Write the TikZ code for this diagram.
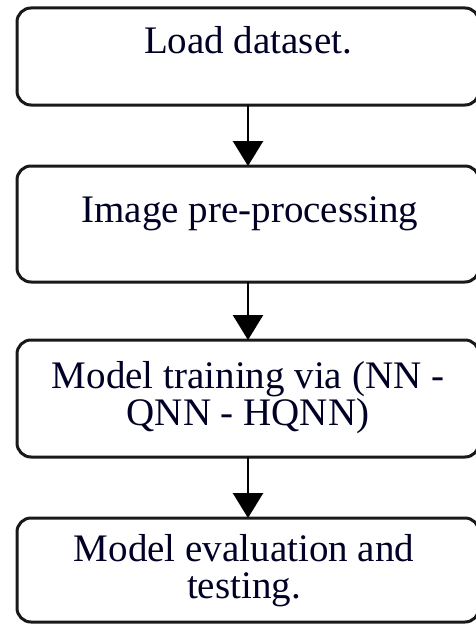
\documentclass[tikz,border=0pt]{standalone}
\usepackage{fontspec}
\setmainfont{Liberation Serif}
\usetikzlibrary{arrows.meta}
\begin{document}
\begin{tikzpicture}[x=1pt,y=-1pt,
  stepbox/.style={draw=black!90, line width=3pt, rounded corners=14pt,
    inner sep=0pt, outer sep=0pt, fill=white},
  steptext/.style={anchor=base, inner sep=0pt, align=center,
    font=\fontsize{39}{37}\selectfont, text=black!85!blue},
  flow/.style={line width=2.6pt, draw=black,
    -{Triangle[width=30pt,length=25pt]}}]
  \useasboundingbox (0,0) rectangle (475,626);
  % boxes
  \node[stepbox, minimum width=462pt, minimum height=97pt]  (b1) at (248,56.5) {};
  \node[stepbox, minimum width=462pt, minimum height=116pt] (b2) at (248,224) {};
  \node[stepbox, minimum width=462pt, minimum height=117pt] (b3) at (248,398.5) {};
  \node[stepbox, minimum width=462pt, minimum height=104pt] (b4) at (248,570) {};
  % labels (multi-line nodes sit on the baseline of their last line)
  \node[steptext] (t1) at (248,53) {Load dataset.};
  \node[steptext] (t2) at (250,222) {Image pre-processing};
  \node[steptext] (t3) at (248,425) {Model training via (NN -\\QNN - HQNN)};
  \node[steptext] (t4) at (244,598) {Model evaluation and\\testing.};
  % connectors
  \draw[flow] (b1.south) -- (b2.north);
  \draw[flow] (b2.south) -- (b3.north);
  \draw[flow] (b3.south) -- (b4.north);
\end{tikzpicture}
\end{document}
